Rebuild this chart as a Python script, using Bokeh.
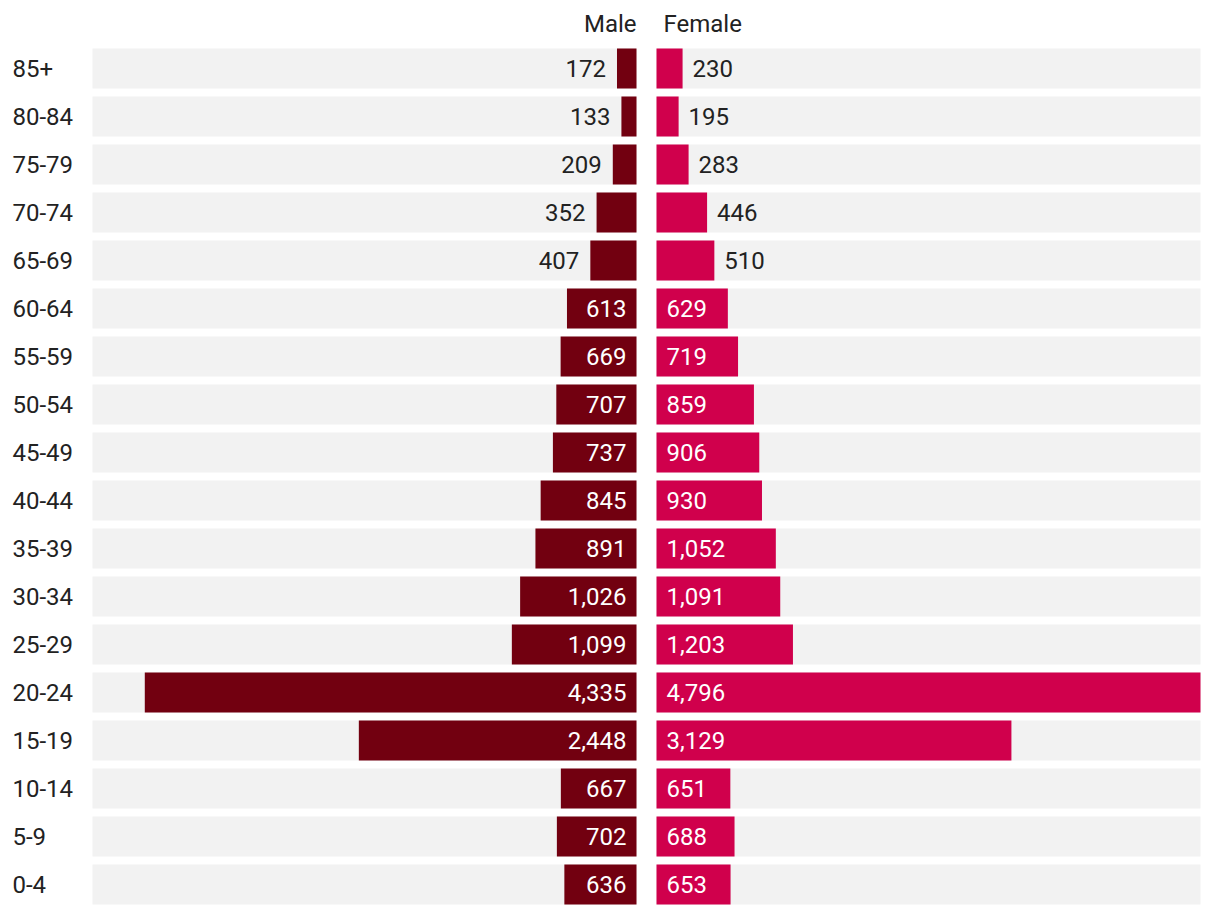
from bokeh.plotting import figure
from bokeh.models import Range1d, ColumnDataSource
from bokeh.core.properties import value
from bokeh.embed import file_html
from bokeh.resources import INLINE

# ---- data (top row first) ----
age_groups = ["85+", "80-84", "75-79", "70-74", "65-69", "60-64", "55-59", "50-54",
              "45-49", "40-44", "35-39", "30-34", "25-29", "20-24", "15-19", "10-14",
              "5-9", "0-4"]
male = [172, 133, 209, 352, 407, 613, 669, 707, 737, 845, 891, 1026, 1099, 4335,
        2448, 667, 702, 636]
female = [230, 195, 283, 446, 510, 629, 719, 859, 906, 930, 1052, 1091, 1203, 4796,
          3129, 651, 688, 653]
series_names = ["Male", "Female"]

# ---- layout (pixels) ----
W, H = 1212, 908
ROW = 48.0
BAR = 40.0
PANEL = 544.0
TOP = 68.0             # frame px of first row centre
HEAD = 23.0            # frame px of header centre
MALE_ZERO = 636.0      # frame px of male axis zero
FEMALE_ZERO = 656.0    # frame px of female axis zero
LABEL_X = 12
FONT = value("Roboto")
FS = "24px"
TXT = "#222222"
MALE_C = "#720010"
FEMALE_C = "#D0004C"
BG = "#F2F2F2"

n = len(age_groups)
vmax = max(max(male), max(female))
scale = vmax / PANEL
rows = list(range(n))

p = figure(width=W, height=H, output_backend="svg", toolbar_location=None,
           x_range=Range1d(0, W),
           y_range=Range1d((H - TOP) / ROW, -TOP / ROW),
           x_axis_location=None, y_axis_location=None, min_border=0,
           outline_line_color=None, border_fill_color="white",
           background_fill_color="white")
p.grid.visible = False

p.extra_x_ranges = {
    "male": Range1d(MALE_ZERO * scale, -(W - MALE_ZERO) * scale),
    "female": Range1d(-FEMALE_ZERO * scale, (W - FEMALE_ZERO) * scale),
}

h = BAR / ROW
src = ColumnDataSource(dict(y=rows, male=male, female=female,
                            bg=[vmax] * n, label=age_groups))

# backgrounds
p.hbar(y="y", left=0, right="bg", height=h, source=src, x_range_name="male",
       fill_color=BG, line_color=None)
p.hbar(y="y", left=0, right="bg", height=h, source=src, x_range_name="female",
       fill_color=BG, line_color=None)
# bars
p.hbar(y="y", left=0, right="male", height=h, source=src, x_range_name="male",
       fill_color=MALE_C, line_color=None)
p.hbar(y="y", left=0, right="female", height=h, source=src, x_range_name="female",
       fill_color=FEMALE_C, line_color=None)

# age labels
p.text(x=LABEL_X, y="y", text="label", source=src, text_align="left",
       text_baseline="middle", text_font=FONT, text_font_size=FS, text_color=TXT)

THRESH = 550
def sub(vals, inside):
    idx = [i for i, v in enumerate(vals) if (v >= THRESH) == inside]
    return ColumnDataSource(dict(y=[rows[i] for i in idx],
                                 v=[vals[i] for i in idx],
                                 t=[f"{vals[i]:,}" for i in idx]))

# male value labels
p.text(x=0, y="y", text="t", source=sub(male, True), x_range_name="male",
       x_offset=-10, text_align="right", text_baseline="middle",
       text_font=FONT, text_font_size=FS, text_color="white")
p.text(x="v", y="y", text="t", source=sub(male, False), x_range_name="male",
       x_offset=-11, text_align="right", text_baseline="middle",
       text_font=FONT, text_font_size=FS, text_color=TXT)
# female value labels
p.text(x=0, y="y", text="t", source=sub(female, True), x_range_name="female",
       x_offset=10, text_align="left", text_baseline="middle",
       text_font=FONT, text_font_size=FS, text_color="white")
p.text(x="v", y="y", text="t", source=sub(female, False), x_range_name="female",
       x_offset=10, text_align="left", text_baseline="middle",
       text_font=FONT, text_font_size=FS, text_color=TXT)

# headers
hy = (HEAD - TOP) / ROW
p.text(x=[0], y=[hy], text=[series_names[0]], x_range_name="male", x_offset=0,
       text_align="right", text_baseline="middle", text_font=FONT,
       text_font_size=FS, text_color=TXT)
p.text(x=[0], y=[hy], text=[series_names[1]], x_range_name="female", x_offset=7,
       text_align="left", text_baseline="middle", text_font=FONT,
       text_font_size=FS, text_color=TXT)

open("out.html", "w").write(file_html(p, INLINE))
